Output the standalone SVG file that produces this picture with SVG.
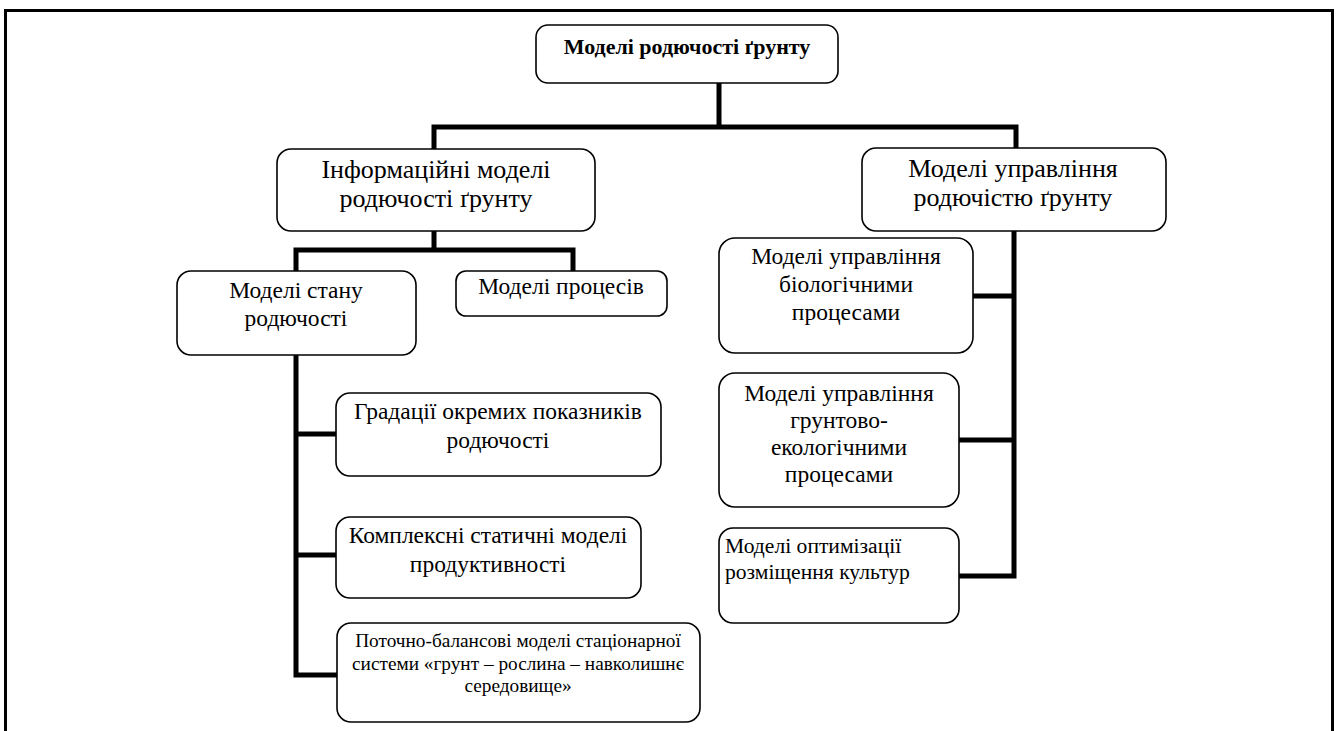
<svg xmlns="http://www.w3.org/2000/svg" width="1338" height="731" viewBox="0 0 1338 731">
<style>
.box{fill:#fff;stroke:#000;stroke-width:1.6}
.t{font-family:"Liberation Serif","Times New Roman",serif;fill:#000;text-anchor:middle}
.l1{font-size:26px}
.l2{font-size:23.5px}
.ttl{font-size:22px;font-weight:bold}
.sm{font-size:19.3px}
.lf{font-size:21.6px;text-anchor:start}
.c{fill:none;stroke:#000;stroke-width:5;stroke-linecap:square;stroke-linejoin:miter}
</style>
<rect x="0" y="0" width="1338" height="731" fill="#fff"/>
<rect x="5.5" y="10.5" width="1327" height="740" fill="none" stroke="#000" stroke-width="3"/>
<g id="connectors">
<path class="c" d="M719 84 V127 M434 127 H1016 M434 127 V148 M1016 127 V149"/>
<path class="c" d="M434 231 V250 M296 250 H573 M296 250 V271 M573 250 V271"/>
<path class="c" d="M296 356 V675 M296 434 H336 M296 555 H336 M296 675 H337"/>
<path class="c" d="M1014 231 V576 M973 296 H1014 M959 440 H1014 M959 576 H1014"/>
</g>
<g id="n-root">
<rect class="box" x="536" y="25" width="302" height="58" rx="12"/>
<text class="t ttl" x="687" y="54">Моделі родючості ґрунту</text>
</g>
<g id="n-info">
<rect class="box" x="277" y="149" width="318" height="82" rx="14"/>
<text class="t l1" x="436" y="178">Інформаційні моделі</text>
<text class="t l1" x="436" y="207">родючості ґрунту</text>
</g>
<g id="n-manage">
<rect class="box" x="862" y="148" width="304" height="83" rx="14"/>
<text class="t l1" x="1013" y="177">Моделі управління</text>
<text class="t l1" x="1013" y="206">родючістю ґрунту</text>
</g>
<g id="n-state">
<rect class="box" x="177" y="271" width="239" height="84" rx="14"/>
<text class="t l2" x="296" y="298">Моделі стану</text>
<text class="t l2" x="296" y="326">родючості</text>
</g>
<g id="n-proc">
<rect class="box" x="456" y="271" width="211" height="45" rx="10"/>
<text class="t l2" x="561" y="294">Моделі процесів</text>
</g>
<g id="n-grad">
<rect class="box" x="336" y="393" width="325" height="83" rx="14"/>
<text class="t l2" x="498" y="419">Градації окремих показників</text>
<text class="t l2" x="498" y="448">родючості</text>
</g>
<g id="n-compl">
<rect class="box" x="336" y="517" width="305" height="81" rx="14"/>
<text class="t l2" x="488" y="543">Комплексні статичні моделі</text>
<text class="t l2" x="488" y="572">продуктивності</text>
</g>
<g id="n-flow">
<rect class="box" x="337" y="623" width="363" height="99" rx="14"/>
<text class="t sm" x="518" y="647">Поточно-балансові моделі стаціонарної</text>
<text class="t sm" x="518" y="670">системи «грунт – рослина – навколишнє</text>
<text class="t sm" x="518" y="692">середовище»</text>
</g>
<g id="n-bio">
<rect class="box" x="719" y="238" width="254" height="115" rx="16"/>
<text class="t l2" x="846" y="264">Моделі управління</text>
<text class="t l2" x="846" y="292">біологічними</text>
<text class="t l2" x="846" y="320">процесами</text>
</g>
<g id="n-eco">
<rect class="box" x="719" y="373" width="240" height="134" rx="16"/>
<text class="t l2" x="839" y="401">Моделі управління</text>
<text class="t l2" x="839" y="428">грунтово-</text>
<text class="t l2" x="839" y="455">екологічними</text>
<text class="t l2" x="839" y="482">процесами</text>
</g>
<g id="n-opt">
<rect class="box" x="719" y="528" width="240" height="95" rx="14"/>
<text class="t lf" x="725" y="553">Моделі оптимізації</text>
<text class="t lf" x="725" y="579">розміщення культур</text>
</g>
</svg>
